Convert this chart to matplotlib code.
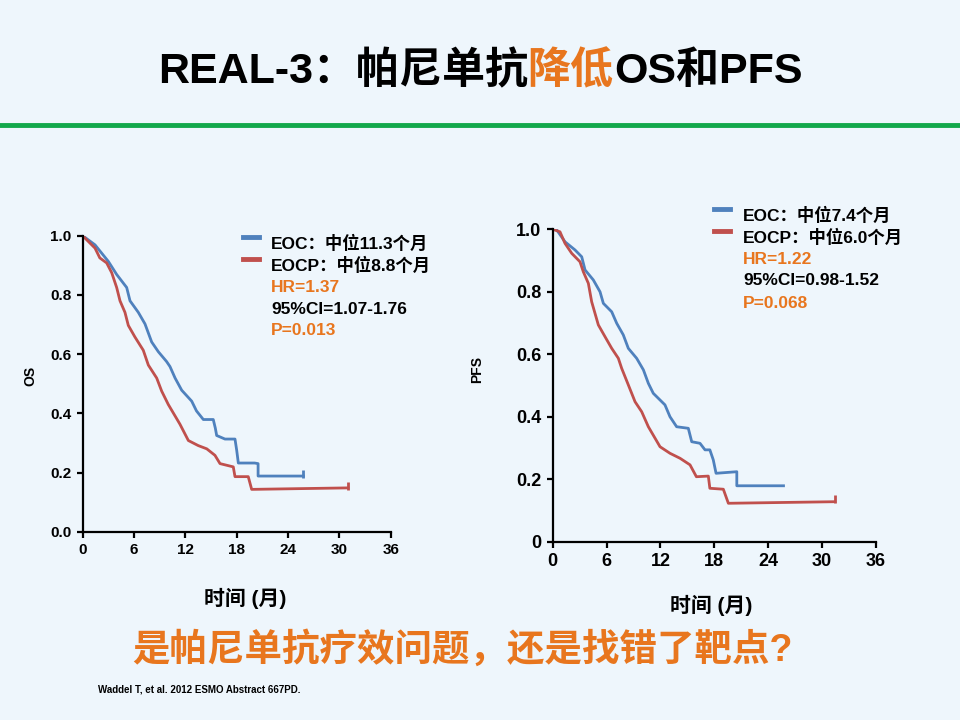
import matplotlib
matplotlib.use('Agg')
import matplotlib.pyplot as plt
from matplotlib.lines import Line2D

plt.rcParams['font.family'] = ['Liberation Sans', 'Noto Sans CJK SC', 'DejaVu Sans']
plt.rcParams['font.weight'] = 'bold'

BG = '#EEF6FC'
BLUE = '#4F81BD'
RED = '#C0504D'
ORANGE = '#E8761E'
GREEN = '#12A84B'

# OS curves (months, survival)
os_eoc_t = [0, 1.44, 3.0, 3.97, 5.14, 5.53, 6.5, 7.28, 8.06, 8.84, 9.8, 10.2, 10.8, 11.57,
            12.74, 13.3, 14.1, 15.26, 15.5, 15.66, 16.63, 17.8, 18.0, 18.19, 20.1, 20.5, 20.5, 25.8]
os_eoc_s = [1.0, 0.969, 0.913, 0.869, 0.825, 0.78, 0.741, 0.702, 0.641, 0.608, 0.575, 0.558, 0.519, 0.478,
            0.441, 0.408, 0.379, 0.379, 0.35, 0.325, 0.313, 0.313, 0.275, 0.232, 0.232, 0.23, 0.188, 0.188]
os_eocp_t = [0, 0.47, 1.44, 2.0, 2.8, 3.39, 3.97, 4.36, 4.94, 5.33, 6.1, 7.08, 7.67, 8.65, 9.23, 10.0,
             11.37, 12.35, 13.5, 14.5, 15.46, 16.05, 17.6, 17.8, 19.35, 19.75, 31.0]
os_eocp_s = [1.0, 0.986, 0.958, 0.925, 0.908, 0.875, 0.825, 0.78, 0.741, 0.697, 0.658, 0.613, 0.563, 0.519, 0.475, 0.43,
             0.363, 0.308, 0.291, 0.28, 0.258, 0.23, 0.219, 0.186, 0.186, 0.143, 0.148]

# PFS curves
pfs_eoc_t = [0, 0.45, 1.37, 2.48, 3.23, 3.6, 4.52, 5.27, 5.64, 6.57, 7.13, 7.86, 8.42, 9.35, 10.1, 10.65,
             11.2, 12.5, 13.06, 13.8, 15.1, 15.48, 16.4, 16.96, 17.5, 17.88, 18.19, 20.5, 20.5, 25.7]
pfs_eoc_s = [1.0, 0.998, 0.96, 0.934, 0.912, 0.87, 0.838, 0.80, 0.763, 0.736, 0.699, 0.662, 0.619, 0.587, 0.55, 0.507,
             0.475, 0.438, 0.40, 0.368, 0.363, 0.32, 0.315, 0.294, 0.294, 0.262, 0.219, 0.224, 0.179, 0.179]
pfs_eocp_t = [0, 0.81, 1.37, 2.12, 3.04, 3.41, 3.97, 4.34, 5.08, 5.83, 6.57, 7.31, 7.68, 8.42, 9.17, 9.91,
              10.65, 11.95, 13.06, 14.18, 15.29, 16.0, 17.33, 17.5, 19.0, 19.56, 31.4]
pfs_eocp_s = [1.0, 0.992, 0.955, 0.923, 0.896, 0.864, 0.827, 0.768, 0.694, 0.656, 0.619, 0.587, 0.555, 0.502, 0.448, 0.416,
              0.368, 0.304, 0.283, 0.267, 0.246, 0.208, 0.21, 0.171, 0.168, 0.123, 0.128]

x_ticks = [0, 6, 12, 18, 24, 30, 36]
os_yticks = [0.0, 0.2, 0.4, 0.6, 0.8, 1.0]
os_yticklabels = ['0.0', '0.2', '0.4', '0.6', '0.8', '1.0']
pfs_yticklabels = ['0', '0.2', '0.4', '0.6', '0.8', '1.0']

os_legend = ['EOC：中位11.3个月', 'EOCP：中位8.8个月', 'HR=1.37', '95%CI=1.07-1.76', 'P=0.013']
pfs_legend = ['EOC：中位7.4个月', 'EOCP：中位6.0个月', 'HR=1.22', '95%CI=0.98-1.52', 'P=0.068']

W, H = 960, 720
fig = plt.figure(figsize=(9.6, 7.2), dpi=100, facecolor=BG)


def fx(px):
    return px / W


def fy(py):
    return 1 - py / H


def text_row(parts, x, y, size, ha='center'):
    renderer = fig.canvas.get_renderer()
    texts = [fig.text(0, y, s, color=c, fontsize=size, fontweight='bold', va='center') for s, c in parts]
    widths = [t.get_window_extent(renderer).width for t in texts]
    start = x * W - (sum(widths) / 2 if ha == 'center' else 0)
    for t, w in zip(texts, widths):
        t.set_x(start / W)
        start += w


def km_axes(rect, tick_size, yticklabels, ylabel, ylabel_size, ylabel_pos, xlabel_pos):
    ax = fig.add_axes(rect)
    ax.set_xlim(0, 36)
    ax.set_ylim(0, 1.0)
    ax.set_xticks(x_ticks)
    ax.set_yticks(os_yticks)
    ax.set_yticklabels(yticklabels)
    for side in ['top', 'right']:
        ax.spines[side].set_visible(False)
    for side in ['left', 'bottom']:
        ax.spines[side].set_linewidth(1.6)
    ax.tick_params(direction='out', length=4, width=1.6, pad=4, labelsize=tick_size)
    for lab in ax.get_xticklabels() + ax.get_yticklabels():
        lab.set_fontweight('bold')
    ax.patch.set_visible(False)
    fig.text(fx(ylabel_pos[0]), fy(ylabel_pos[1]), ylabel, rotation=90, fontsize=ylabel_size,
             fontweight='bold', ha='center', va='center')
    fig.text(fx(xlabel_pos[0]), fy(xlabel_pos[1]), '时间 (月)', fontsize=15,
             fontweight='bold', ha='center', va='center')
    return ax


def legend_block(lines, x_line, x_text, y0, step):
    colors_txt = ['black', 'black', ORANGE, 'black', ORANGE]
    for i, (s, c) in enumerate(zip(lines, colors_txt)):
        fig.text(fx(x_text), fy(y0 + i * step), s, color=c, fontsize=12.5, fontweight='bold', va='center')
    for i, c in enumerate([BLUE, RED]):
        yy = fy(y0 + i * step - 6)
        fig.add_artist(Line2D([fx(x_line), fx(x_line + 16)], [yy, yy], color=c, lw=3.5))


# title and separator
text_row([('REAL-3：帕尼单抗', 'black'), ('降低', ORANGE), ('OS和PFS', 'black')], 0.5, fy(72), 31)
fig.add_artist(Line2D([0, 1], [fy(125), fy(125)], color=GREEN, lw=3.5))

# OS panel
ax1 = km_axes([fx(82.7), fy(531.7), fx(390.7) - fx(82.7), fy(235.7) - fy(531.7)],
              11, os_yticklabels, 'OS', 10, (30, 376), (245, 598))
ax1.plot(os_eoc_t, os_eoc_s, color=BLUE, lw=2)
ax1.plot(os_eocp_t, os_eocp_s, color=RED, lw=2)
ax1.plot(os_eoc_t[-1], os_eoc_s[-1] + 0.008, marker='|', ms=6, mew=2, color=BLUE)
ax1.plot(os_eocp_t[-1], os_eocp_s[-1] + 0.008, marker='|', ms=6, mew=2, color=RED)
legend_block(os_legend, 243, 271, 243, 22)

# PFS panel
ax2 = km_axes([fx(552.7), fy(541.7), fx(876) - fx(552.7), fy(229.3) - fy(541.7)],
              13, pfs_yticklabels, 'PFS', 10, (477, 370), (711, 605))
ax2.plot(pfs_eoc_t, pfs_eoc_s, color=BLUE, lw=2)
ax2.plot(pfs_eocp_t, pfs_eocp_s, color=RED, lw=2)
ax2.plot(pfs_eocp_t[-1], pfs_eocp_s[-1] + 0.008, marker='|', ms=6, mew=2, color=RED)
legend_block(pfs_legend, 714, 743, 215, 22)

# bottom question and reference
fig.text(fx(462), fy(650), '是帕尼单抗疗效问题，还是找错了靶点?', color=ORANGE, fontsize=27,
         fontweight='bold', ha='center', va='center')
fig.text(fx(98), fy(690), 'Waddel T, et al. 2012 ESMO Abstract 667PD.', fontsize=7,
         fontweight='bold', va='center')

fig.savefig('out.png', dpi=100, facecolor=BG)
